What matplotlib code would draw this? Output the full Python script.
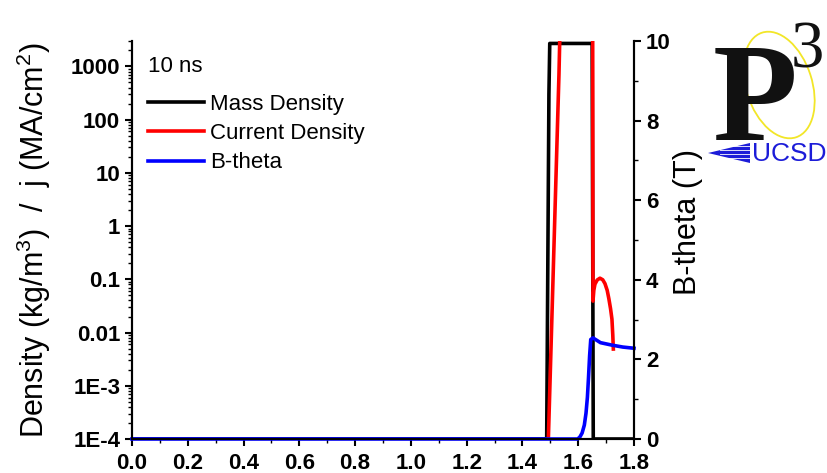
import numpy as np
import matplotlib
matplotlib.use("Agg")
import matplotlib.pyplot as plt
from matplotlib.patches import Ellipse, Polygon
from matplotlib.ticker import LogLocator, MultipleLocator, NullFormatter

plt.rcParams['font.family'] = ['Liberation Sans', 'DejaVu Sans']
plt.rcParams['mathtext.default'] = 'regular'

# mass density (kg/m^3), left log axis
rho_x = [0.0, 1.487, 1.495, 1.498, 1.650, 1.654, 1.8]
rho_y = [1e-4, 1e-4, 300, 2700, 2700, 1e-4, 1e-4]

# current density (MA/cm^2), left log axis
j_x = [1.492, 1.493, 1.531, 1.536, 1.648, 1.652, 1.653, 1.656, 1.660, 1.668,
       1.678, 1.688, 1.696, 1.704, 1.710, 1.716, 1.721, 1.724, 1.726]
j_y = [5e-5, 1e-4, 700, 1e4, 1e4, 3000, 0.039, 0.062, 0.081, 0.097,
       0.105, 0.098, 0.083, 0.062, 0.043, 0.028, 0.0178, 0.009, 0.0049]

# B-theta (T), right axis
b_x = [0.0, 1.598, 1.606, 1.614, 1.622, 1.628, 1.633, 1.637, 1.641, 1.645,
       1.653, 1.680, 1.720, 1.760, 1.800]
b_y = [0.0, 0.0, 0.05, 0.15, 0.35, 0.65, 1.05, 1.55, 2.1, 2.5,
       2.54, 2.42, 2.36, 2.31, 2.28]

log_ticks = [1e-4, 1e-3, 1e-2, 1e-1, 1, 10, 100, 1000]
log_labels = ['1E-4', '1E-3', '0.01', '0.1', '1', '10', '100', '1000']

fig = plt.figure(figsize=(8.27, 4.73), dpi=100)
ax = fig.add_axes([0.1596, 0.0719, 0.6070, 0.8414])

l1, = ax.plot(rho_x, rho_y, color='black', lw=2.6, label='Mass Density')
l2, = ax.plot(j_x, j_y, color='red', lw=2.6, label='Current Density')
ax.set_yscale('log')
ax.set_ylim(1e-4, 3000)
ax.set_xlim(0, 1.8)
ax.set_yticks(log_ticks)
ax.set_yticklabels(log_labels)
ax.yaxis.set_minor_locator(LogLocator(base=10, subs=np.arange(2, 10), numticks=20))
ax.yaxis.set_minor_formatter(NullFormatter())
ax.xaxis.set_major_locator(MultipleLocator(0.2))
ax.xaxis.set_minor_locator(MultipleLocator(0.1))
ax.xaxis.set_major_formatter(plt.FuncFormatter(lambda v, p: f'{v:.1f}'))
ax.set_ylabel('Density (kg/m$^3$)  /  j (MA/cm$^2$)', fontsize=22, labelpad=13)

ax2 = ax.twinx()
l3, = ax2.plot(b_x, b_y, color='#0000ff', lw=2.6, label='B-theta', clip_on=False)
ax2.set_ylim(0, 10)
ax2.yaxis.set_major_locator(MultipleLocator(2))
ax2.yaxis.set_minor_locator(MultipleLocator(1))
ax2.set_ylabel('B-theta (T)', fontsize=22)
ax2.yaxis.set_label_coords(1.077, 0.545)

for a in (ax, ax2):
    a.spines['top'].set_visible(False)
    for s in a.spines.values():
        s.set_linewidth(1.5)
    a.tick_params(which='major', direction='out', length=5, width=1.5, labelsize=16)
    a.tick_params(which='minor', direction='out', length=3, width=1.0)
    for t in a.get_xticklabels() + a.get_yticklabels():
        t.set_fontweight('bold')
ax.tick_params(axis='x', pad=5)

ax.text(0.032, 0.935, '10 ns', transform=ax.transAxes, fontsize=16, va='center', ha='left')
leg = ax.legend(handles=[l1, l2, l3], loc='upper left',
                bbox_to_anchor=(0.032, 0.868), frameon=False, fontsize=16,
                handlelength=2.5, handletextpad=0.3, labelspacing=0.38,
                borderaxespad=0, borderpad=0)

# P3 UCSD logo
fig.text(713 / 827, 1 - 140 / 473, 'P', fontsize=100, family='Liberation Serif',
         fontweight='bold', ha='left', va='baseline', color='#111111')
fig.text(791 / 827, 1 - 68 / 473, '3', fontsize=48, family='Liberation Serif',
         ha='left', va='baseline', color='#111111')
fig.patches.append(Ellipse((7.79, 3.88), 0.66, 1.10, angle=18, fill=False,
                           edgecolor='#f2e628', lw=1.3, transform=fig.dpi_scale_trans))
fig.text(752 / 827, 1 - 161 / 473, 'UCSD', fontsize=19, color='#1c1cd8',
         ha='left', va='baseline')
fig.patches.append(Polygon([(7.08, 3.20), (7.50, 3.30), (7.50, 3.10)], closed=True,
                           facecolor='#1c1cd8', edgecolor='none',
                           transform=fig.dpi_scale_trans))
for yy in (3.15, 3.19, 3.23, 3.27):
    fig.lines.append(plt.Line2D([7.20, 7.52], [yy, yy], color='white', lw=0.6,
                                transform=fig.dpi_scale_trans))

fig.savefig('out.png', dpi=100)
